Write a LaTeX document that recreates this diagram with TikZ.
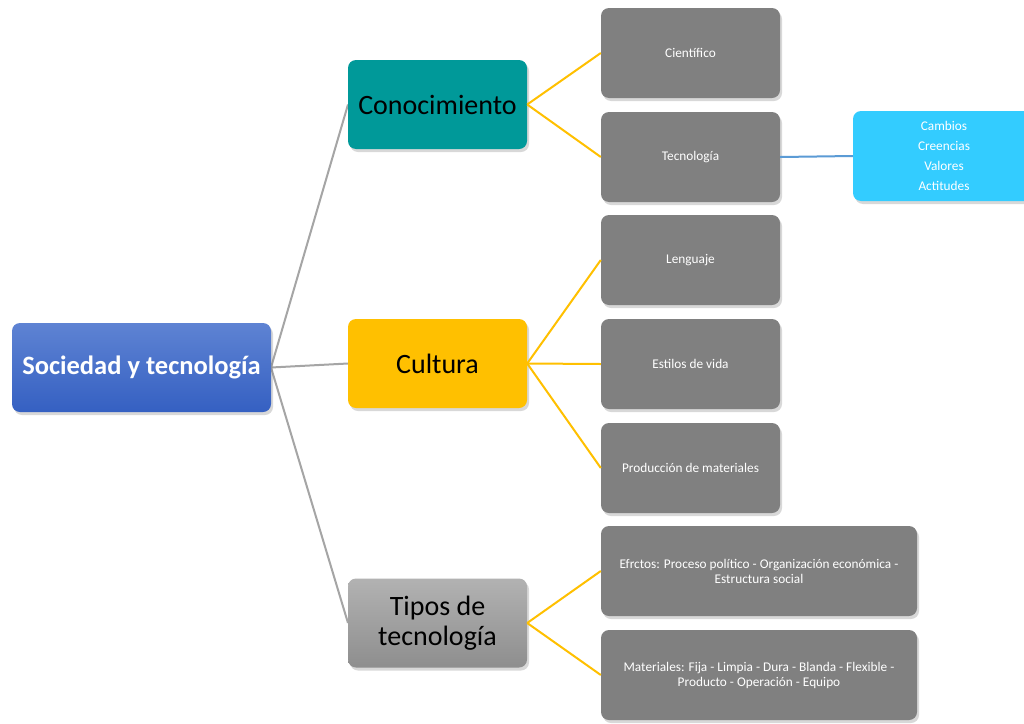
\documentclass[tikz,border=0pt]{standalone}
\usepackage{fontspec}
\setmainfont{Carlito}
\usetikzlibrary{shadows}
\definecolor{rootTop}{HTML}{5E83D3}
\definecolor{rootBot}{HTML}{3560C2}
\definecolor{tealC}{HTML}{009999}
\definecolor{amberC}{HTML}{FFC000}
\definecolor{grayTop}{HTML}{B2B2B2}
\definecolor{grayBot}{HTML}{8E8E8E}
\definecolor{boxGray}{HTML}{808080}
\definecolor{skyC}{HTML}{33CCFF}
\definecolor{lineGray}{HTML}{A5A5A5}
\definecolor{lineBlue}{HTML}{5B9BD5}
\begin{document}
\begin{tikzpicture}[x=1pt,y=-1pt,
  basebox/.style={rounded corners=8pt, inner sep=0pt, align=center,
    drop shadow={opacity=0.3, shadow xshift=2pt, shadow yshift=-3pt}},
  rootbox/.style={basebox, top color=rootTop, bottom color=rootBot, text=white,
    minimum width=259pt, minimum height=89pt, font=\fontsize{26.5}{30}\selectfont\bfseries},
  lvlbox/.style={basebox, minimum width=179pt, minimum height=89pt, text=black,
    font=\fontsize{28}{29.5}\selectfont},
  leafbox/.style={basebox, fill=boxGray, text=white, minimum width=179pt, minimum height=90pt,
    font=\fontsize{13.3}{15}\selectfont},
  wideleaf/.style={leafbox, minimum width=316pt},
  skybox/.style={basebox, fill=skyC, text=white, minimum width=182pt, minimum height=90pt,
    font=\fontsize{13.3}{20}\selectfont},
  grayline/.style={draw=lineGray, line width=2pt},
  yellowline/.style={draw=amberC, line width=2pt},
  blueline/.style={draw=lineBlue, line width=2pt}]
\useasboundingbox (0,0) rectangle (1024,723);
\fill[white] (0,0) rectangle (1024,723);
% connectors first
\coordinate (rootE) at (271,367.5);
\coordinate (conW) at (348,104.5);
\coordinate (culW) at (348,363.5);
\coordinate (tipW) at (348,623);
\draw[grayline] (rootE) -- (conW);
\draw[grayline] (rootE) -- (culW);
\draw[grayline] (rootE) -- (tipW);
% nodes
\node[rootbox] (root) at (141.5,367.5) {Sociedad y tecnología};
\node[lvlbox, fill=tealC] (con) at (437.5,104.5) {Conocimiento};
\node[lvlbox, fill=amberC] (cul) at (437.5,363.5) {Cultura};
\node[lvlbox, top color=grayTop, bottom color=grayBot] (tip) at (437.5,623) {Tipos de\\tecnología};
\node[leafbox] (cien) at (690.5,53) {Científico};
\node[leafbox] (tec) at (690.5,157) {Tecnología};
\node[leafbox] (len) at (690.5,260) {Lenguaje};
\node[leafbox] (est) at (690.5,364) {Estilos de vida};
\node[leafbox] (pro) at (690.5,468) {Producción de materiales};
\node[wideleaf] (efe) at (759,571) {Efrctos: Proceso político - Organización económica -\\Estructura social};
\node[wideleaf] (mat) at (759,675) {Materiales: Fija - Limpia - Dura - Blanda - Flexible -\\Producto - Operación - Equipo};
\node[skybox] (sky) at (944,156) {Cambios\\Creencias\\Valores\\Actitudes};
% child connectors
\draw[yellowline] (con.east) -- (cien.west);
\draw[yellowline] (con.east) -- (tec.west);
\draw[yellowline] (cul.east) -- (len.west);
\draw[yellowline] (cul.east) -- (est.west);
\draw[yellowline] (cul.east) -- (pro.west);
\draw[yellowline] (tip.east) -- (efe.west);
\draw[yellowline] (tip.east) -- (mat.west);
\draw[blueline] (tec.east) -- (sky.west);
\end{tikzpicture}
\end{document}
